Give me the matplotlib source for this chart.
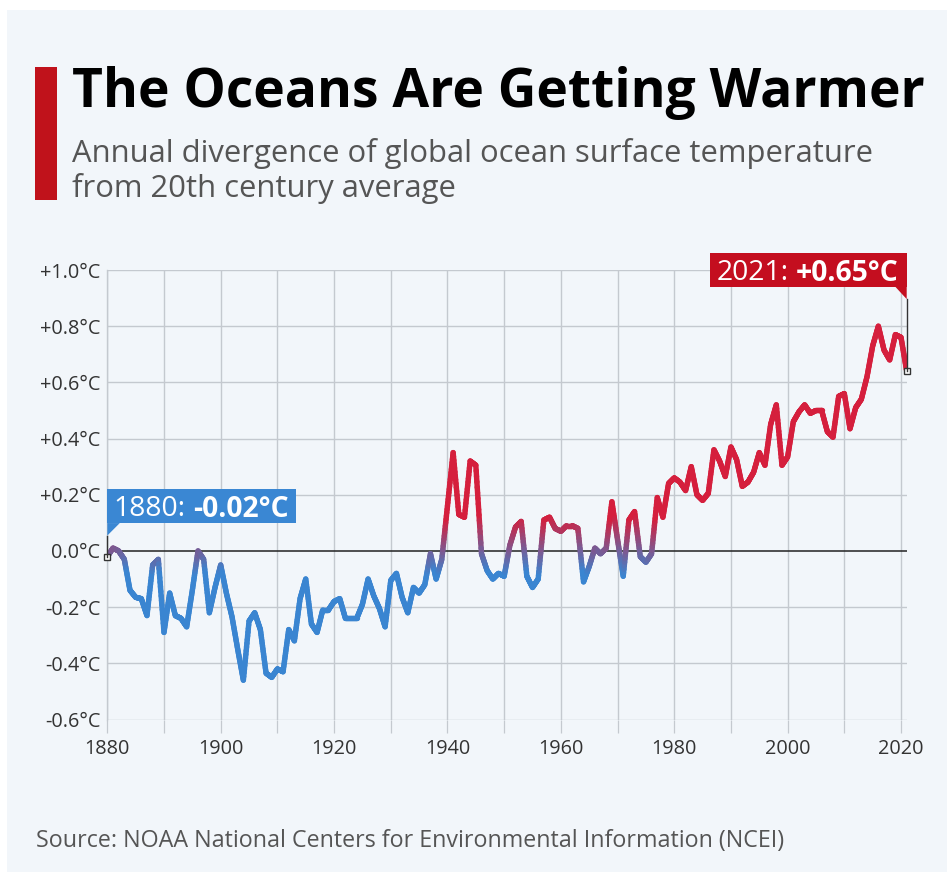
import numpy as np
import matplotlib
matplotlib.use("Agg")
import matplotlib.pyplot as plt
from matplotlib.collections import LineCollection
from matplotlib.colors import LinearSegmentedColormap, Normalize
from matplotlib.patches import Rectangle, Polygon
from matplotlib.lines import Line2D

# ---------------- data ----------------
years = list(range(1880, 2022))
anom_1880s = [-0.02, 0.01, 0.00, -0.03, -0.14, -0.165, -0.17, -0.23, -0.05, -0.03]
anom_1890s = [-0.29, -0.15, -0.23, -0.24, -0.27, -0.14, 0.00, -0.03, -0.22, -0.13]
anom_1900s = [-0.05, -0.15, -0.235, -0.35, -0.46, -0.25, -0.22, -0.28, -0.435, -0.45]
anom_1910s = [-0.42, -0.43, -0.28, -0.32, -0.17, -0.10, -0.26, -0.29, -0.21, -0.21]
anom_1920s = [-0.18, -0.17, -0.24, -0.24, -0.24, -0.19, -0.10, -0.16, -0.205, -0.27]
anom_1930s = [-0.105, -0.08, -0.165, -0.22, -0.13, -0.15, -0.12, -0.01, -0.10, -0.03]
anom_1940s = [0.16, 0.35, 0.13, 0.12, 0.32, 0.305, -0.01, -0.07, -0.10, -0.08]
anom_1950s = [-0.09, 0.02, 0.085, 0.105, -0.09, -0.13, -0.10, 0.11, 0.12, 0.08]
anom_1960s = [0.07, 0.09, 0.09, 0.08, -0.11, -0.055, 0.01, -0.01, 0.01, 0.175]
anom_1970s = [0.04, -0.09, 0.11, 0.14, -0.02, -0.04, -0.01, 0.19, 0.12, 0.24]
anom_1980s = [0.26, 0.245, 0.215, 0.30, 0.20, 0.18, 0.205, 0.36, 0.32, 0.265]
anom_1990s = [0.37, 0.325, 0.23, 0.245, 0.28, 0.35, 0.305, 0.45, 0.52, 0.305]
anom_2000s = [0.335, 0.46, 0.495, 0.52, 0.49, 0.50, 0.50, 0.425, 0.405, 0.55]
anom_2010s = [0.56, 0.435, 0.51, 0.54, 0.62, 0.73, 0.80, 0.715, 0.68, 0.77]
anom_2020s = [0.76, 0.64]
anomaly = (anom_1880s + anom_1890s + anom_1900s + anom_1910s + anom_1920s +
           anom_1930s + anom_1940s + anom_1950s + anom_1960s + anom_1970s +
           anom_1980s + anom_1990s + anom_2000s + anom_2010s + anom_2020s)

y_ticks = [-0.6, -0.4, -0.2, 0.0, 0.2, 0.4, 0.6, 0.8, 1.0]
y_tick_labels = ["-0.6°C", "-0.4°C", "-0.2°C", "0.0°C", "+0.2°C", "+0.4°C",
                 "+0.6°C", "+0.8°C", "+1.0°C"]
x_label_years = [1880, 1900, 1920, 1940, 1960, 1980, 2000, 2020]
x_minor_years = list(range(1880, 2021, 10))

first_label = ("1880:", "-0.02°C")
last_label = ("2021:", "+0.65°C")

title = "The Oceans Are Getting Warmer"
subtitle1 = "Annual divergence of global ocean surface temperature"
subtitle2 = "from 20th century average"
source = "Source: NOAA National Centers for Environmental Information (NCEI)"

# ---------------- style ----------------
W, H = 947, 876
DPI = 100
FONT = ["Open Sans", "DejaVu Sans"]
plt.rcParams["font.family"] = FONT
BG = "#f2f6fa"
BLUE = "#3a85d1"
RED = "#d51f3d"
BOX_BLUE = "#3a87d3"
BOX_RED = "#c40e1f"
GRID = "#c4c9cf"

fig = plt.figure(figsize=(W / DPI, H / DPI), dpi=DPI, facecolor="white")
fig.patches.append(Rectangle((7 / W, 0), 1 - 7 / W, 1 - 10 / H, transform=fig.transFigure,
                             facecolor=BG, edgecolor="none", zorder=-10))
fig.patches.append(Rectangle((7 / W, 0), 1 - 7 / W, 4 / H, transform=fig.transFigure,
                             facecolor="white", edgecolor="none", zorder=-9))

x0, x1 = 107.3, 906.7
ytop, ybot = 270.0, 719.5
ax = fig.add_axes([x0 / W, 1 - ybot / H, (x1 - x0) / W, (ybot - ytop) / H])
ax.set_facecolor("none")
ax.set_xlim(1880, 2021)
ax.set_ylim(-0.6, 1.0)
for s in ["top", "right", "bottom"]:
    ax.spines[s].set_visible(False)
ax.spines["left"].set_color(GRID)
ax.spines["left"].set_linewidth(1.0)

ax.set_yticks(y_ticks)
ax.set_yticklabels(y_tick_labels)
ax.tick_params(axis="y", length=0, pad=5, labelsize=14.3, labelcolor="#333333")
ax.set_xticks(x_minor_years, minor=True)
ax.set_xticks(x_label_years)
ax.set_xticklabels([str(v) for v in x_label_years])
ax.tick_params(axis="x", which="both", length=9, width=0.9, color=GRID, pad=5,
               labelsize=14.3, labelcolor="#333333", direction="out")
for v in x_minor_years:
    ax.axvline(v, color=GRID, lw=1.0, zorder=1)
for v in y_ticks:
    if v != 0:
        ax.axhline(v, color=GRID, lw=1.0, zorder=1)
ax.axhline(0, color="#222222", lw=1.1, zorder=2)

# gradient line
cmap = LinearSegmentedColormap.from_list("br", [BLUE, RED])
norm = Normalize(vmin=-0.08, vmax=0.12)
xs = np.array(years, dtype=float)
ys = np.array(anomaly, dtype=float)
segs, cols = [], []
n_sub = 16
for i in range(len(xs) - 1):
    tx = np.linspace(xs[i], xs[i + 1], n_sub + 1)
    ty = np.linspace(ys[i], ys[i + 1], n_sub + 1)
    for k in range(n_sub):
        segs.append([(tx[k], ty[k]), (tx[k + 1], ty[k + 1])])
        cols.append(cmap(norm(0.5 * (ty[k] + ty[k + 1]))))
lc = LineCollection(segs, colors=cols, linewidths=3.9, capstyle="round",
                    joinstyle="round", zorder=4)
ax.add_collection(lc)

fig.canvas.draw()
renderer = fig.canvas.get_renderer()


def px(xd, yd):
    X, Y = ax.transData.transform((xd, yd))
    return X, Y


def fit_text(x, ytop_px, s, target_w, weight="normal", color="black", start=20):
    t = fig.text(x / W, 1 - ytop_px / H, s, fontsize=start, weight=weight, color=color,
                 ha="left", va="baseline")
    w = t.get_window_extent(renderer).width
    t.set_fontsize(start * target_w / w)
    return t


# title block
fig.patches.append(Rectangle((35 / W, 1 - 200 / H), 22.4 / W, 133 / H,
                             transform=fig.transFigure, facecolor="#c0121b",
                             edgecolor="none"))
fit_text(72, 106.7, title, 854, weight="bold", color="black", start=36)
st = fit_text(72, 162, subtitle1, 801, color="#555555", start=22)
fig.text(72 / W, 1 - 197 / H, subtitle2, color="#555555", ha="left", va="baseline",
         fontsize=st.get_fontsize())
fit_text(36, 846.7, source, 752, color="#555555", start=14)


def label_box(left, right, top_y, bot_y, color, parts, tri, line_pts, fs=20.3):
    fig.patches.append(Rectangle((left / W, 1 - bot_y / H), (right - left) / W,
                                 (bot_y - top_y) / H, transform=fig.transFigure,
                                 facecolor=color, edgecolor="none", zorder=5))
    fig.patches.append(Polygon([(a / W, 1 - b / H) for a, b in tri], closed=True,
                               transform=fig.transFigure, facecolor=color,
                               edgecolor="none", zorder=5))
    fig.lines.append(Line2D([p[0] / W for p in line_pts], [1 - p[1] / H for p in line_pts],
                            transform=fig.transFigure, color="#333333", lw=1.0, zorder=5))
    ycen = 0.5 * (top_y + bot_y)
    t1 = fig.text(0, 1 - ycen / H, parts[0], fontsize=fs, color="white", weight="normal",
                  ha="left", va="center_baseline", zorder=6)
    t2 = fig.text(0, 1 - ycen / H, parts[1], fontsize=fs, color="white", weight="bold",
                  ha="left", va="center_baseline", zorder=6)
    w1 = t1.get_window_extent(renderer).width
    w2 = t2.get_window_extent(renderer).width
    gap = fs * DPI / 72 * 0.26
    total = w1 + gap + w2
    sx = 0.5 * (left + right) - total / 2 - 1
    t1.set_x(sx / W)
    t2.set_x((sx + w1 + gap) / W)


fx, fy = px(years[0], anomaly[0])
fy_top = H - fy
label_box(fx, fx + 189, fy_top - 68, fy_top - 33.5, BOX_BLUE, first_label,
          [(fx, fy_top - 33.5), (fx + 12.5, fy_top - 33.5), (fx, fy_top - 21)],
          [(fx, fy_top - 21), (fx, fy_top)])
lx, ly = px(years[-1], anomaly[-1])
ly_top = H - ly
label_box(lx - 196.5, lx, ly_top - 118.5, ly_top - 84.5, BOX_RED, last_label,
          [(lx, ly_top - 84.5), (lx - 11.5, ly_top - 84.5), (lx, ly_top - 72)],
          [(lx, ly_top - 72), (lx, ly_top)])

ax.plot([years[0], years[-1]], [anomaly[0], anomaly[-1]], ls="none", marker="s",
        ms=5, mfc="white", mec="#333333", mew=1.0, zorder=7, clip_on=False)

fig.savefig("out.png", dpi=DPI, facecolor="white")
